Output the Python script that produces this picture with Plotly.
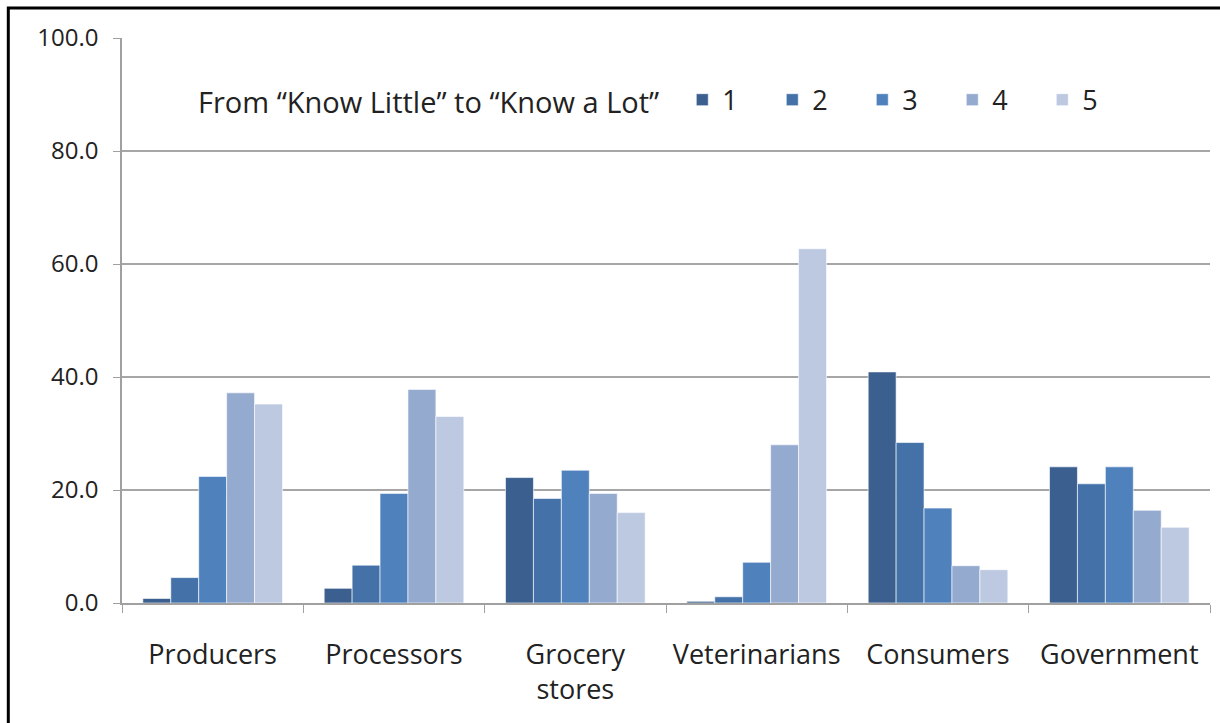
import plotly.graph_objects as go

categories = ["Producers", "Processors", "Grocery<br>stores", "Veterinarians", "Consumers", "Government"]
levels = ["1", "2", "3", "4", "5"]
level_1 = [0.8, 2.6, 22.2, 0.3, 40.9, 24.1]
level_2 = [4.5, 6.7, 18.5, 1.1, 28.4, 21.1]
level_3 = [22.4, 19.4, 23.5, 7.2, 16.8, 24.1]
level_4 = [37.2, 37.8, 19.4, 28.0, 6.6, 16.4]
level_5 = [35.2, 33.0, 16.0, 62.7, 5.9, 13.4]
series = [level_1, level_2, level_3, level_4, level_5]
colors = ["#3B5F8E", "#4472A8", "#4F81BD", "#95AACF", "#BCC9E1"]
y_ticks = [0, 20, 40, 60, 80, 100]

FONT = "Open Sans"
TEXT = "#222222"

fig = go.Figure()
for name, vals, col in zip(levels, series, colors):
    fig.add_trace(go.Bar(
        x=categories, y=vals, name=name,
        marker=dict(color=col, line=dict(color="rgba(255,255,255,0.6)", width=1)),
    ))

fig.update_layout(
    width=1220, height=723,
    margin=dict(l=122, r=10, t=38, b=120),
    paper_bgcolor="white", plot_bgcolor="white",
    barmode="group", bargap=0.23, bargroupgap=0,
    font=dict(family=FONT, size=24, color=TEXT),
    showlegend=True,
    legend=dict(
        orientation="h", x=0.068, y=0.89, xanchor="left", yanchor="middle",
        title=dict(text="From “Know Little” to “Know a Lot”  ", side="left",
                   font=dict(family=FONT, size=29, color=TEXT)),
        font=dict(family=FONT, size=27, color=TEXT),
        entrywidth=45, entrywidthmode="pixels",
        bgcolor="rgba(0,0,0,0)", itemwidth=30,
    ),
    xaxis=dict(
        showline=True, linecolor="#A0A0A0", linewidth=1.5,
        ticks="outside", tickson="boundaries", ticklen=8, tickcolor="#A0A0A0",
        tickfont=dict(family=FONT, size=27, color=TEXT),
        ticklabelstandoff=27,
    ),
    yaxis=dict(
        range=[0, 100], tickvals=y_ticks, tickformat=".1f",
        showgrid=True, gridcolor="#A6A6A6", gridwidth=1.5,
        showline=True, linecolor="#A0A0A0", linewidth=1.5,
        ticks="outside", ticklen=7, tickcolor="#A0A0A0",
        tickfont=dict(family=FONT, size=24, color=TEXT),
        ticklabelstandoff=10,
        zeroline=False,
    ),
)

# outer chart frame (left and top edges visible)
fig.add_shape(type="rect", xref="paper", yref="paper",
              x0=-0.1045, x1=1.05, y0=-0.4, y1=1.0531,
              line=dict(color="black", width=3), fillcolor="rgba(0,0,0,0)", layer="above")

fig.write_html("out.html")
